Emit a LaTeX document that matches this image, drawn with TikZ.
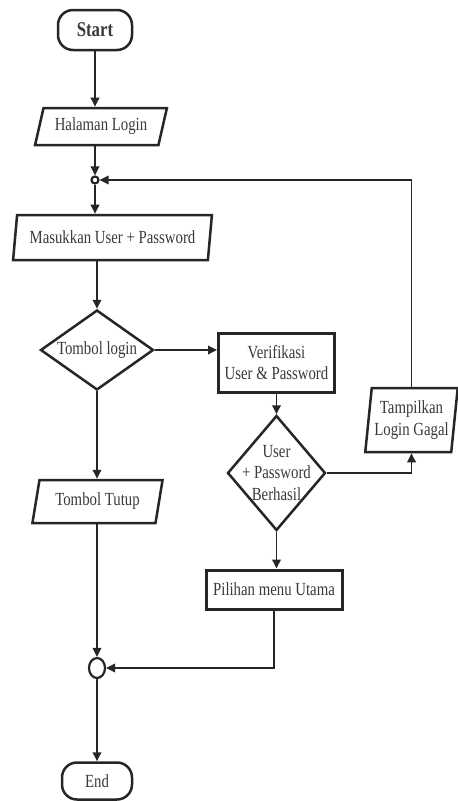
\documentclass[tikz,border=0pt]{standalone}
\usepackage{fontspec}
\setmainfont{Liberation Serif}[FakeStretch=0.8]
\usetikzlibrary{shapes.geometric,arrows.meta}
\definecolor{ln}{HTML}{262626}
\definecolor{tx}{HTML}{3A3A3A}
\begin{document}
\begin{tikzpicture}[x=1pt,y=-1pt,
  every node/.style={font=\fontsize{18.5}{21.5}\selectfont, text=tx, inner sep=0pt, align=center},
  shp/.style={draw=ln, line width=2.5pt},
  term/.style={shp, rounded corners=15pt, minimum width=#1, minimum height=38pt},
  io/.style 2 args={shp, trapezium, trapezium stretches=true, trapezium left angle=#1, trapezium right angle=#2},
  proc/.style={shp, rectangle, line width=3pt},
  dec/.style={shp, diamond},
  junc/.style={shp, line width=2.2pt},
  conn/.style={draw=ln, line width=1.8pt, -{Triangle[length=9pt,width=8.5pt]}},
]
\useasboundingbox (0,0) rectangle (458,801);
\fill[white] (0,0) rectangle (458,801);

\node[term=74pt, minimum height=40pt, font=\bfseries\fontsize{21}{24}\selectfont] (start) at (95,30) {Start};
\node[io={68}{112}, minimum width=132pt, minimum height=37pt] (hal) at (101,126.5) {Halaman Login};
\node[junc, circle, minimum size=7pt] (j1) at (95,180) {};
\node[io={75}{105}, minimum width=199pt, minimum height=45pt] (mas) at (112.5,237.5) {Masukkan User + Password};
\node[dec, minimum width=113pt, minimum height=80pt, label={center:Tombol login}] (tl) at (97,350) {};
\node[proc, minimum width=116pt, minimum height=59pt] (ver) at (276.5,362.5) {Verifikasi\\User \& Password};
\node[dec, minimum width=98pt, minimum height=115pt, label={[align=center]center:User\\+ Password\\Berhasil}] (d2) at (276.5,473) {};
\node[io={81}{99}, minimum width=93pt, minimum height=64pt] (tam) at (411.5,420) {Tampilkan\\Login Gagal};
\node[io={73}{107}, minimum width=131pt, minimum height=43pt] (tut) at (97.5,501.5) {Tombol Tutup};
\node[proc, minimum width=136pt, minimum height=39pt] (pil) at (274,589.5) {Pilihan menu Utama};
\node[junc, ellipse, minimum width=16pt, minimum height=20pt] (e) at (97,668) {};
\node[term=70pt, minimum height=37pt] (end) at (97,781) {End};

\draw[conn] (start.south) -- (start.south |- hal.north);
\draw[conn] (j1 |- hal.south) -- (j1.north);
\draw[conn] (j1.south) -- (j1 |- mas.north);
\draw[conn] (tl |- mas.south) -- (tl.north);
\draw[conn] (tl.east) -- (tl.east -| ver.west);
\draw[conn] (tl.south) -- (tl |- tut.north);
\draw[conn] (ver.south) -- (d2.north);
\draw[conn] (d2.east) -| (tam.south);
\draw[conn] (tam.north) |- (j1.east);
\draw[conn] (d2.south) -- (d2.south |- pil.north);
\draw[conn] (e |- tut.south) -- (e.north);
\draw[conn] (pil.south) |- (e.east);
\draw[conn] (e.south) -- (end.north);
\end{tikzpicture}
\end{document}
